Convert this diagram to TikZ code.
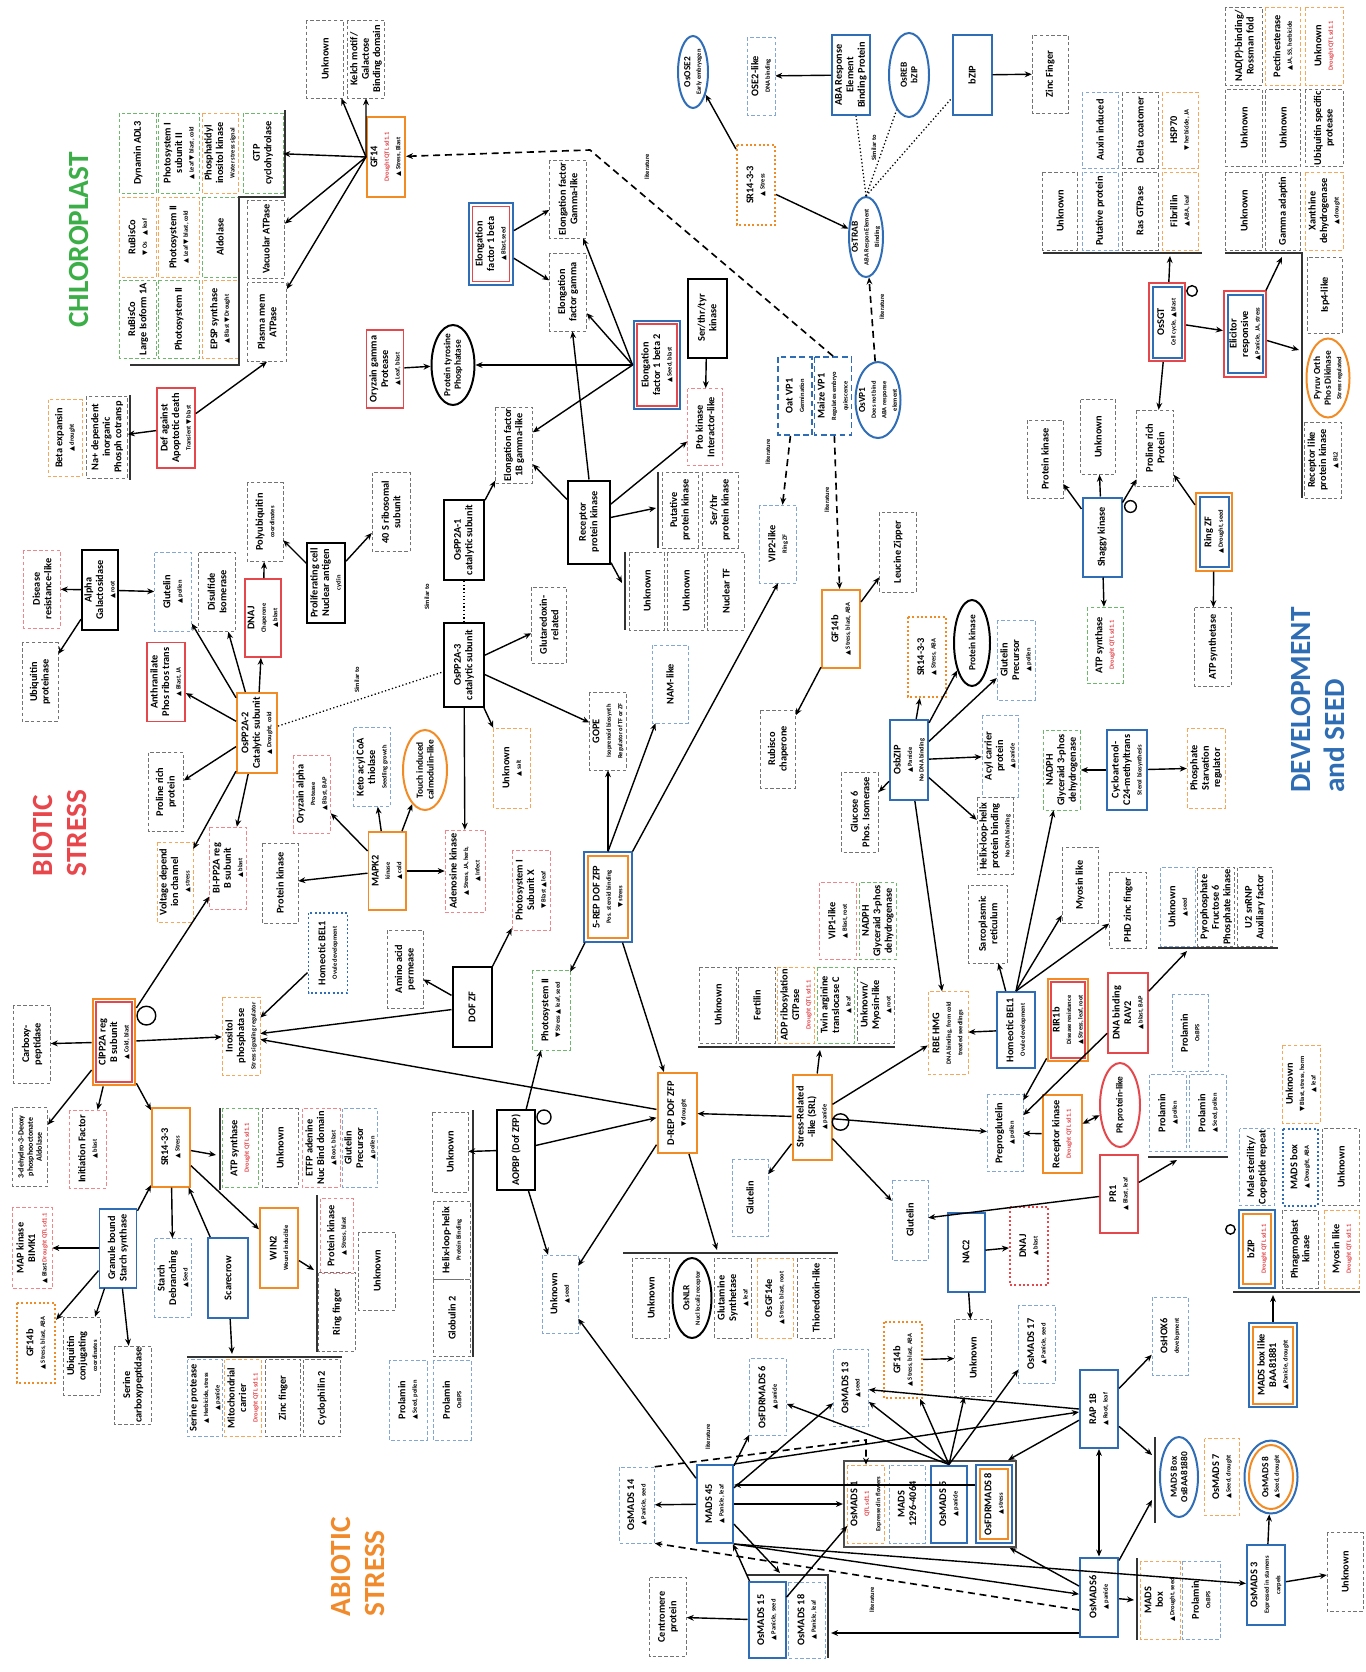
\documentclass[tikz,border=0pt]{standalone}
\usepackage{fontspec}
\setmainfont{Carlito}
\newfontfamily\symf{DejaVu Sans}
\usepackage{tikz}
\usetikzlibrary{shapes.geometric, arrows.meta, positioning, fit, calc}

\definecolor{myblue}{HTML}{2F6DB6}
\definecolor{myorange}{HTML}{F28B24}
\definecolor{myred}{HTML}{E4474C}
\definecolor{mygreen}{HTML}{6DB86A}
\definecolor{chlgreen}{HTML}{3CAE48}
\definecolor{devblue}{HTML}{2E6DB4}
\definecolor{biored}{HTML}{E8464B}
\definecolor{abiorange}{HTML}{F18A2A}

\newcommand\sm[1]{{\fontsize{5.5}{6.3}\selectfont #1}}
\newcommand\tup{{\symf ▲}}
\newcommand\tdn{{\symf ▼}}
\newcommand\qtl{{\color{myred}Drought QTL sd1.1}}

\begin{document}
\begin{tikzpicture}[
    x=0.03cm, y=-0.03cm,
    bx/.style={rotate=90, rectangle, align=center, inner sep=1pt,
        font=\fontsize{8.8}{9.8}\selectfont\bfseries,
        minimum width=2.34cm, minimum height=1.11cm},
    sz/.style 2 args={minimum height=#1*0.03cm, minimum width=#2*0.03cm},
    gbox/.style={bx, draw=black!55, densely dashed, thin},
    bbox/.style={bx, draw=myblue!60, densely dashed, thin},
    obox/.style={bx, draw=myorange!75, densely dashed, thin},
    rbox/.style={bx, draw=myred!65, densely dashed, thin},
    grbox/.style={bx, draw=mygreen, densely dashed, thin},
    kbox/.style={bx, draw=black, line width=1.7pt},
    Bbox/.style={bx, draw=myblue, line width=1.7pt},
    Obox/.style={bx, draw=myorange, line width=1.7pt},
    Rbox/.style={bx, draw=myred, line width=1.4pt},
    odot/.style={bx, draw=myorange, dotted, line width=1.7pt},
    bdot/.style={bx, draw=myblue, dotted, line width=1.7pt},
    rdot/.style={bx, draw=myred, dotted, line width=1.7pt},
    bdash/.style={bx, draw=myblue, dash pattern=on 5pt off 3pt, line width=1.5pt},
    ell/.style={bx, ellipse, inner sep=-4pt, line width=1.7pt,
        font=\fontsize{8}{9}\selectfont\bfseries},
    Bell/.style={ell, draw=myblue},
    Oell/.style={ell, draw=myorange},
    Rell/.style={ell, draw=myred},
    Kell/.style={ell, draw=black},
    frm/.style={draw=#1, line width=1.7pt, inner sep=2.2pt},
    grp/.style={draw=black!70, line width=1.4pt, inner sep=3pt},
    ar/.style={-{Stealth[length=6pt,width=5pt]}, line width=1.2pt},
    bi/.style={{Stealth[length=6pt,width=5pt]}-{Stealth[length=6pt,width=5pt]}, line width=1.2pt},
    dar/.style={ar, dash pattern=on 6pt off 4pt, line width=1.4pt},
    sim/.style={dotted, line width=1.1pt},
    brk/.style={line width=1.3pt, black!80},
    lp/.style={line width=1.2pt},
    lit/.style={rotate=90, font=\fontsize{5.5}{6.5}\selectfont\bfseries},
    ttl/.style={rotate=90, align=left, inner sep=0pt,
        font=\fontsize{25}{29}\selectfont\bfseries}
]
\useasboundingbox (0,0) rectangle (1366,1672);
\fill[white] (0,0) rectangle (1366,1672);

% chloroplast
\node[ttl, text=chlgreen] (chl) at (79,240) {CHLOROPLAST};
\node[gbox] (unk1) at (325,59) {Unknown};
\node[gbox] (kelch) at (366,59) {Kelch motif/\\Galactose\\Binding domain};
\node[grbox, sz={37}{80}] (dyn) at (138,153) {Dynamin ADL3};
\node[obox, sz={37}{80}] (rub1) at (138,237) {RuBisCo\\\sm{\tdn\ Os\quad\tup\ leaf}};
\node[grbox, sz={37}{78}] (rubl) at (138,319) {RuBisCo\\Large Isoform 1A};
\node[grbox, sz={41}{80}] (ps1) at (179,153) {Photosystem I\\subunit II\\\sm{\tup\ Leaf\ \tdn\ blast, cold}};
\node[obox, sz={41}{80}] (ps2a) at (179,237) {Photosystem II\\\sm{\tup\ Leaf\ \tdn\ blast, cold}};
\node[grbox, sz={41}{78}] (ps2b) at (179,319) {Photosystem II};
\node[obox, sz={36}{80}] (pik) at (220,153) {Phosphatidyl\\inositol kinase\\\sm{Water stress signal}};
\node[grbox, sz={36}{80}] (aldo) at (220,237) {Aldolase};
\node[obox, sz={36}{78}] (epsp) at (220,319) {EPSP synthase\\\sm{\tup\ Blast\ \tdn\ Drought}};
\node[grbox, sz={40}{80}] (gtp) at (263,153) {GTP\\cyclohydrolase};
\node[gbox] (vac) at (266,239) {Vacuolar ATPase};
\node[gbox, sz={39}{79}] (plas) at (267,322) {Plasma mem\\ATPase};
\node[Obox, sz={38}{80}] (gf14) at (386,157) {GF14\\\sm{\qtl}\\\sm{\tup\ Stress, Blast}};
\node[Rbox] (oryg) at (385,369) {Oryzain gamma\\Protease\\\sm{\tup\ Leaf, blast}};
\node[Kell, sz={43}{80}] (ptp) at (453,365) {Protein tyrosine\\Phosphatase};
\node[Rbox, sz={38}{80}] (defa) at (176,428) {Def against\\Apoptotic death\\\sm{Transient \tdn\ blast}};
\node[obox, sz={34}{77}] (beta) at (65,438) {Beta expansin\\\sm{\tup\ drought}};
\node[gbox, sz={41}{82}] (na) at (107,437) {Na+ dependent\\inorganic\\Phosph cotransp};

% ABA / elongation
\node[Bell, sz={30}{72}] (ose2) at (693,72) {OsOSE2\\\sm{Early embryogen}};
\node[bbox, sz={28}{78}] (ose2l) at (761,76) {OSE2-like\\\sm{DNA binding}};
\node[Bbox, sz={38}{80}] (abre) at (851,75) {ABA Response\\Element\\Binding Protein};
\node[Bell, sz={40}{84}] (osreb) at (909,75) {OsREB\\bZIP};
\node[Bbox, sz={39}{80}] (bzip) at (972,75) {bZIP};
\node[gbox, sz={36}{78}] (zinc) at (1050,74) {Zinc Finger};
\node[odot, sz={38}{80}] (sr1433a) at (756,185) {SR14-3-3\\\sm{\tup\ Stress}};
\node[Bell, sz={34}{80}] (ostrab) at (866,237) {OsTRAB\\\sm{ABA Respon Element}\\\sm{Binding}};
\node[Rbox, sz={37}{75}] (ef1b) at (491,244) {Elongation\\factor 1 beta\\\sm{\tup\ Blast,seed}};
\node[frm=myblue, fit=(ef1b)] (ef1bF) {};
\node[gbox] (efgl) at (568,199) {Elongation factor\\Gamma-like};
\node[gbox] (efg) at (568,292) {Elongation\\factor gamma};
\node[Rbox, sz={40}{82}] (ef1b2) at (657,365) {Elongation\\factor 1 beta 2\\\sm{\tup\ Seed, blast}};
\node[frm=myblue, fit=(ef1b2)] (ef1b2F) {};
\node[kbox, sz={39}{79}] (stt) at (707,318) {Ser/thr/tyr\\kinase};
\node[rbox, sz={35}{77}] (pto) at (705,427) {Pto kinase\\Interactor-like};
\node[bdash, sz={34}{78}] (oatvp) at (795,396) {Oat VP1\\\sm{Germination}};
\node[bdash, sz={37}{78}] (maizevp) at (833,396) {Maize VP1\\\sm{Regulates embryo}\\\sm{quiescence}};
\node[Bell, sz={45}{76}] (osvp1) at (878,400) {OsVP1\\\sm{Does not bind}\\\sm{ABA response}\\\sm{element}};

% OsSGT corner
\node[gbox, sz={35}{78}] (unks) at (1060,211) {Unknown};
\node[bbox, sz={36}{76}] (auxin) at (1100,130) {Auxin induced};
\node[bbox, sz={36}{78}] (putp) at (1100,211) {Putative protein};
\node[gbox, sz={36}{76}] (delta) at (1140,130) {Delta coatomer};
\node[gbox, sz={36}{78}] (ras) at (1140,211) {Ras GTPase};
\node[obox, sz={36}{76}] (hsp) at (1180,130) {HSP70\\\sm{\tdn\ herbicide, JA}};
\node[obox, sz={36}{78}] (fib) at (1180,211) {Fibrillin\\\sm{\tup\ ABA, leaf}};
\node[Bbox, sz={29}{71}] (osgt) at (1167,322) {OsSGT\\\sm{Cell cycle, \tup\ blast}};
\node[frm=myred, fit=(osgt)] (osgtF) {};
\node[gbox, sz={37}{78}] (nadp) at (1244,46) {NAD(P)-binding/\\Rossman fold};
\node[obox, sz={35}{78}] (pect) at (1283,46) {Pectinesterase\\\sm{\tup\ JA, SS, herbicide}};
\node[obox, sz={38}{78}] (unkq) at (1324,46) {Unknown\\\sm{\qtl}};
\node[gbox, sz={37}{77}] (unkr1) at (1244,128) {Unknown};
\node[gbox, sz={35}{77}] (unkr2) at (1283,128) {Unknown};
\node[gbox, sz={38}{77}] (ubsp) at (1324,128) {Ubiquitin specific\\protease};
\node[gbox, sz={37}{78}] (unkr3) at (1244,211) {Unknown};
\node[gbox, sz={35}{78}] (gad) at (1283,211) {Gamma adaptin};
\node[obox, sz={38}{78}] (xan) at (1324,211) {Xanthine\\dehydrogenase\\\sm{\tup\ drought}};
\node[gbox, sz={35}{76}] (isp4) at (1325,295) {Isp4-like};
\node[Oell, sz={43}{79}] (pyr) at (1328,378) {Pyruv Orth\\Phos Dikinase\\\sm{Stress regulated}};
\node[gbox, sz={37}{76}] (rlk) at (1323,460) {Receptor like\\protein kinase\\\sm{\tup\ BL2}};
\node[Bbox, sz={35}{78}] (elic) at (1245,334) {Elicitor\\responsive\\\sm{\tup\ Panicle, JA, stress}};
\node[frm=myred, fit=(elic)] (elicF) {};
\node[gbox, sz={36}{78}] (pk1) at (1045,459) {Protein kinase};
\node[gbox, sz={35}{75}] (unksh) at (1098,437) {Unknown};
\node[gbox, sz={37}{76}] (prp) at (1155,448) {Proline rich\\Protein};
\node[Bbox, sz={39}{79}] (shaggy) at (1102,537) {Shaggy kinase};
\node[grbox, sz={36}{76}] (atps1) at (1105,645) {ATP synthase\\\sm{\qtl}};
\node[Bbox, sz={29}{70}] (ringzf) at (1214,532) {Ring ZF\\\sm{\tup\ Drought, seed}};
\node[frm=myorange, fit=(ringzf)] (ringzfF) {};
\node[gbox, sz={37}{79}] (atpst) at (1213,647) {ATP synthetase};
\node[ttl, text=devblue] (dev) at (1318,700) {DEVELOPMENT\\and SEED};

% biotic side
\node[rbox, sz={37}{78}] (dis) at (42,589) {Disease\\resistance-like};
\node[kbox, sz={36}{80}] (alpha) at (100,590) {Alpha\\Galactosidase\\\sm{\tup\ root}};
\node[gbox, sz={36}{79}] (ubp) at (40,682) {Ubiquitin\\proteinase};
\node[bbox, sz={37}{79}] (glut1) at (173,592) {Glutelin\\\sm{\tup\ pollen}};
\node[gbox, sz={37}{79}] (disu) at (217,592) {Disulfide\\Isomerase};
\node[Rbox, sz={36}{78}] (dnaj1) at (263,618) {DNAJ\\\sm{Chaperone}\\\sm{\tup\ blast}};
\node[gbox, sz={36}{79}] (polyu) at (265,522) {Polyubiquitin\\\sm{coordinates}};
\node[kbox, sz={38}{80}] (pcna) at (326,583) {Proliferating cell\\Nuclear antigen\\\sm{cyclin}};
\node[gbox, sz={38}{79}] (s40) at (391,512) {40 S ribosomal\\subunit};
\node[Rbox, sz={38}{79}] (anth) at (166,682) {Anthranilate\\Phos ribos trans\\\sm{\tup\ Blast, JA}};
\node[Obox, sz={40}{80}] (pp2a2) at (257,733) {OsPP2A-2\\Catalytic subunit\\\sm{\tup\ Drought, cold}};
\node[gbox, sz={35}{79}] (prp2) at (166,792) {Proline rich\\protein};
\node[ttl, text=biored] (bio) at (60,833) {BIOTIC\\STRESS};
\node[rbox, sz={37}{78}] (orya) at (312,794) {Oryzain alpha\\\sm{Protease}\\\sm{\tup\ Blast, BAP}};
\node[bbox, sz={37}{79}] (keto) at (372,767) {Keto acyl CoA\\thiolase\\\sm{Seedling growth}};
\node[Oell, sz={44}{80}] (touch) at (425,770) {Touch induced\\calmodulin-like};
\node[kbox, sz={40}{80}] (pp2a1) at (464,540) {OsPP2A-1\\catalytic subunit};
\node[kbox, sz={40}{84}] (pp2a3) at (464,665) {OsPP2A-3\\catalytic subunit};
\node[gbox, sz={37}{76}] (ef1bgl) at (514,445) {Elongation factor\\1B gamma-like};
\node[kbox, sz={42}{83}] (rpk) at (589,522) {Receptor\\protein kinase};
\node[gbox, sz={36}{76}] (putpk) at (680,510) {Putative\\protein kinase};
\node[gbox, sz={36}{76}] (serpk) at (720,510) {Ser/thr\\protein kinase};
\node[gbox, sz={35}{78}] (unka) at (647,591) {Unknown};
\node[gbox, sz={37}{78}] (unkb) at (686,591) {Unknown};
\node[gbox, sz={37}{78}] (nuctf) at (726,591) {Nuclear TF};
\node[gbox, sz={35}{76}] (glrx) at (549,625) {Glutaredoxin-\\related};
\node[gbox, sz={37}{78}] (gope) at (608,731) {GOPE\\\sm{Isoprenoid biosynth}\\\sm{Regulator of TF or ZF}};
\node[obox, sz={37}{80}] (unksalt) at (512,768) {Unknown\\\sm{\tup\ salt}};
\node[bbox, sz={36}{78}] (nam) at (670,684) {NAM-like};
\node[bbox, sz={37}{78}] (vip2) at (778,544) {VIP2-like\\\sm{Ring ZF}};
\node[Obox, sz={38}{78}] (gf14b1) at (841,629) {GF14b\\\sm{\tup\ Stress, blast, ABA}};
\node[gbox, sz={37}{80}] (leuz) at (898,552) {Leucine Zipper};
\node[gbox, sz={35}{78}] (rubch) at (778,749) {Rubisco\\chaperone};
\node[gbox, sz={37}{80}] (g6p) at (860,812) {Glucose 6\\Phos. Isomerase};
\node[odot, sz={38}{80}] (sr1433b) at (927,657) {SR14-3-3\\\sm{\tup\ Stress, ABA}};
\node[Kell, sz={36}{86}] (pkell) at (972,643) {Protein kinase};
\node[bbox, sz={38}{80}] (glutp1) at (1016,660) {Glutelin\\Precursor\\\sm{\tup\ pollen}};
\node[Bbox, sz={38}{80}] (osbzip) at (909,760) {OsbZIP\\\sm{\tup\ Panicle}\\\sm{No DNA binding}};
\node[bbox, sz={36}{82}] (acyl) at (1000,756) {Acyl carrier\\protein\\\sm{\tup\ panicle}};
\node[gbox, sz={36}{77}] (hlh1) at (995,836) {Helix-loop-helix\\protein binding\\\sm{No DNA binding}};
\node[grbox, sz={37}{80}] (nadph1) at (1062,770) {NADPH\\Glyceraid 3-phos\\dehydrogenase};
\node[Bbox, sz={40}{80}] (cyclo) at (1127,770) {Cycloartenol-\\C24-methyltrans\\\sm{Sterol biosynthesis}};
\node[obox, sz={38}{80}] (phstarv) at (1206,768) {Phosphate\\Starvation\\regulator};

% middle band
\node[obox, sz={36}{80}] (vdic) at (175,882) {Voltage depend\\ion channel\\\sm{\tup\ stress}};
\node[rbox, sz={37}{82}] (bipp) at (228,868) {BI-PP2A reg\\B subunit\\\sm{\tup\ blast}};
\node[gbox, sz={36}{80}] (pk2) at (280,883) {Protein kinase};
\node[Obox, sz={37}{78}] (mapk) at (387,871) {MAPK2\\\sm{kinase}\\\sm{\tup\ cold}};
\node[rbox, sz={40}{82}] (adk) at (465,871) {Adenosine kinase\\\sm{\tup\ Stress, JA, herb,}\\\sm{\tup\ Infect}};
\node[bdot, sz={39}{80}] (bel1a) at (328,953) {Homeotic BEL1\\\sm{Ovule development}};
\node[gbox, sz={36}{78}] (aap) at (405,969) {Amino acid\\permease};
\node[kbox, sz={39}{80}] (dofzf) at (472,1007) {DOF ZF};
\node[rbox, sz={38}{80}] (ps1x) at (531,890) {Photosystem I\\Subunit X\\\sm{\tdn\ Blast\ \tup\ leaf}};
\node[Obox, sz={40}{82}] (rep5) at (608,897) {5-REP DOF ZFP\\\sm{Pos. steroid binding}\\\sm{\tdn\ stress}};
\node[frm=myblue, fit=(rep5)] (rep5F) {};
\node[grbox, sz={38}{80}] (ps2c) at (551,1010) {Photosystem II\\\sm{\tdn\ Stress\ \tup\ leaf, seed}};
\node[obox, sz={38}{78}] (inos) at (241,1036) {Inositol\\phosphatase\\\sm{Stress signaling regulator}};
\node[Rbox, sz={36}{80}] (clpp) at (114,1042) {ClPP2A reg\\B subunit\\\sm{\tup\ Cold, blast}};
\node[frm=myorange, fit=(clpp)] (clppF) {};
\node[gbox, sz={37}{78}] (carb) at (32,1044) {Carboxy-\\peptidase};
\node[gbox, sz={35}{79}, font=\fontsize{6.8}{7.8}\selectfont\bfseries] (dehy) at (30,1147) {3-dehydro-3-Deoxy\\phosphooctonate\\Aldolase};
\node[rbox, sz={37}{78}] (initf) at (88,1149) {Initiation Factor\\\sm{\tup\ blast}};
\node[Obox, sz={38}{79}] (sr1433c) at (171,1147) {SR14-3-3\\\sm{\tup\ Stress}};
\node[grbox, sz={36}{79}] (atps2) at (240,1148) {ATP synthase\\\sm{\qtl}};
\node[gbox, sz={36}{79}] (unkc) at (280,1148) {Unknown};
\node[rbox, sz={38}{79}] (etfp) at (321,1148) {ETFP adenine\\Nuc Bind domain\\\sm{\tup\ Root, blast}};
\node[bbox, sz={35}{79}] (glutp2) at (360,1148) {Glutelin\\Precursor\\\sm{\tup\ pollen}};
\node[Bbox, sz={37}{79}] (gbss) at (118,1248) {Granule bound\\Starch synthase};
\node[rbox, sz={40}{81}] (mapkb) at (32,1248) {MAP kinase\\BIMK1\\\sm{\tup\ Blast\ \qtl}};
\node[bbox, sz={37}{79}] (stdb) at (173,1278) {Starch\\Debranching\\\sm{\tup\ Seed}};
\node[Bbox, sz={40}{80}] (scare) at (228,1278) {Scarecrow};
\node[Obox, sz={38}{80}] (win2) at (279,1248) {WIN2\\\sm{Wound inducible}};
\node[rbox, sz={33}{75}] (pk3) at (337,1236) {Protein kinase\\\sm{\tup\ Stress, blast}};
\node[gbox, sz={37}{79}] (ringf) at (337,1312) {Ring finger};
\node[gbox, sz={37}{78}] (unkd) at (377,1271) {Unknown};
\node[odot, sz={38}{80}] (gf14b2) at (36,1343) {GF14b\\\sm{\tup\ Stress, blast, ABA}};
\node[gbox, sz={37}{78}] (ubc) at (82,1356) {Ubiquitin\\conjugating\\\sm{coordinates}};
\node[gbox, sz={37}{76}] (scp) at (133,1385) {Serine\\carboxypeptidase};
\node[bbox, sz={35}{77}] (serp) at (205,1398) {Serine protease\\\sm{\tup\ Herbicide, stress}\\\sm{\tup\ panicle}};
\node[obox, sz={37}{77}] (mito) at (243,1398) {Mitochondrial\\carrier\\\sm{\qtl}};
\node[gbox, sz={35}{77}] (zf2) at (283,1398) {Zinc finger};
\node[gbox, sz={37}{77}] (cyp) at (322,1398) {Cyclophilin 2};
\node[gbox, sz={36}{80}] (unke) at (450,1152) {Unknown};
\node[gbox, sz={37}{78}] (hlh2) at (452,1240) {Helix-loop-helix\\\sm{Protein Binding}};
\node[gbox, sz={37}{77}] (glob) at (452,1318) {Globulin 2};
\node[bbox, sz={38}{80}] (prol1) at (408,1400) {Prolamin\\\sm{\tup\ Seed, pollen}};
\node[bbox, sz={38}{80}] (prol2) at (452,1400) {Prolamin\\\sm{OsBPS}};
\node[ttl, text=abiorange] (abio) at (358,1567) {ABIOTIC\\STRESS};

% centre
\node[kbox, sz={38}{80}] (aopbp) at (516,1150) {AOPBP (Dof ZFP)};
\node[Obox, sz={39}{80}] (drep) at (677,1113) {D-REP DOF ZFP\\\sm{\tdn\ drought}};
\node[Obox, sz={39}{85}] (srl) at (812,1117) {Stress-Related\\-like (SRL)\\\sm{\tup\ panicle}};
\node[bbox, sz={36}{77}] (glut2) at (750,1198) {Glutelin};
\node[rbox, sz={37}{77}] (vip1) at (838,921) {VIP1-like\\\sm{\tup\ Blast, root}};
\node[grbox, sz={37}{77}] (nadph2) at (878,921) {NADPH\\Glyceraid 3-phos\\dehydrogenase};
\node[gbox, sz={37}{76}] (unkf) at (718,1005) {Unknown};
\node[gbox, sz={37}{76}] (fert) at (757,1005) {Fertilin};
\node[obox, sz={37}{76}] (adpr) at (796,1005) {ADP ribosylation\\GTPase\\\sm{\qtl}};
\node[grbox, sz={37}{76}] (tat) at (836,1005) {Twin arginine\\translocase C\\\sm{\tup\ leaf}};
\node[gbox, sz={37}{76}] (unkmy) at (876,1005) {Unknown/\\Myosin-like\\\sm{\tup\ root}};
\node[bbox, sz={36}{78}] (unkseed) at (560,1294) {Unknown\\\sm{\tup\ seed}};
\node[gbox, sz={37}{80}] (unkg) at (651,1298) {Unknown};
\node[Kell, sz={39}{80}] (osnlr) at (692,1298) {OsNLR\\\sm{Nucl localiz receptor}};
\node[gbox, sz={37}{80}] (glns) at (733,1298) {Glutamine\\Synthetase\\\sm{\tup\ leaf}};
\node[obox, sz={36}{80}] (gf14e) at (775,1298) {OsGF14e\\\sm{\tup\ Stress, blast, root}};
\node[gbox, sz={37}{80}] (thio) at (816,1298) {Thioredoxin-like};

% seed side
\node[gbox, sz={39}{78}] (sarco) at (988,924) {Sarcoplasmic\\reticulum};
\node[gbox, sz={36}{76}] (myo1) at (1080,885) {Myosin like};
\node[gbox, sz={37}{76}] (phd) at (1128,910) {PHD zinc finger};
\node[bbox, sz={35}{79}] (unkh) at (1178,907) {Unknown\\\sm{\tup\ seed}};
\node[gbox, sz={37}{79}] (pyro) at (1216,907) {Pyrophosphate\\Fructose 6\\Phosphate kinase};
\node[gbox, sz={35}{79}] (u2) at (1255,907) {U2 snRNP\\Auxiliary factor};
\node[obox, sz={40}{83}] (rbe) at (948,1033) {RBE HMG\\\sm{DNA binding, from cold}\\\sm{treated seedlings}};
\node[Bbox, sz={38}{76}] (bel1b) at (1016,1030) {Homeotic BEL1\\\sm{Ovule development}};
\node[Rbox, sz={34}{76}] (rir) at (1068,1020) {RIR1b\\\sm{Disease resistance}\\\sm{\tup\ Stress, leaf, root}};
\node[frm=myorange, fit=(rir)] (rirF) {};
\node[Rbox, sz={40}{80}] (rav2) at (1128,1013) {DNA binding\\RAV2\\\sm{\tup\ blast, BAP}};
\node[bbox, sz={36}{77}] (prolos) at (1190,1033) {Prolamin\\\sm{OsBPS}};
\node[bbox, sz={36}{77}] (preg) at (1005,1133) {Preproglutelin\\\sm{\tup\ pollen}};
\node[Obox, sz={39}{78}] (reck) at (1062,1134) {Receptor kinase\\\sm{\qtl}};
\node[Rell, sz={40}{84}] (prlike) at (1120,1105) {PR protein-like};
\node[bbox, sz={37}{77}] (prol3) at (1168,1113) {Prolamin\\\sm{\tup\ pollen}};
\node[bbox, sz={37}{77}] (prol4) at (1208,1113) {Prolamin\\\sm{\tup\ Seed, pollen}};
\node[Rbox, sz={38}{78}] (pr1) at (1119,1194) {PR1\\\sm{\tup\ Blast, leaf}};
\node[bbox, sz={36}{80}] (glut3) at (910,1220) {Glutelin};
\node[Bbox, sz={37}{79}] (nac2) at (966,1252) {NAC2};
\node[rdot, sz={38}{78}] (dnaj2) at (1029,1246) {DNAJ\\\sm{\tup\ blast}};
\node[obox, sz={38}{78}] (unkbhl) at (1301,1084) {Unknown\\\sm{\tdn\ Blast, stress, horm}\\\sm{\tup\ leaf}};
\node[bbox, sz={35}{77}] (male) at (1257,1167) {Male sterility/\\Copeptide repeat};
\node[bdot, sz={35}{77}] (madsb1) at (1300,1167) {MADS box\\\sm{\tup\ Drought, ABA}};
\node[gbox, sz={37}{77}] (unki) at (1341,1167) {Unknown};
\node[Obox, sz={28}{70}] (bzip2) at (1257,1249) {bZIP\\\sm{\qtl}};
\node[frm=myblue, fit=(bzip2)] (bzip2F) {};
\node[gbox, sz={36}{78}] (phrag) at (1300,1249) {Phragmoplast\\kinase};
\node[obox, sz={35}{78}] (myo2) at (1342,1249) {Myosin like\\\sm{\qtl}};
\node[Obox, sz={40}{77}] (madsbl) at (1273,1365) {MADS box like\\BAA81881\\\sm{\tup\ Panicle, drought}};
\node[frm=myblue, fit=(madsbl)] (madsblF) {};

% MADS corner
\node[odot, sz={38}{76}] (gf14b3) at (903,1360) {GF14b\\\sm{\tup\ Stress, blast, ABA}};
\node[gbox, sz={37}{77}] (unkj) at (973,1358) {Unknown};
\node[bbox, sz={37}{78}] (mads17) at (1037,1344) {OsMADS 17\\\sm{\tup\ Panicle, seed}};
\node[bbox, sz={36}{78}] (hox6) at (1170,1336) {OsHOX6\\\sm{development}};
\node[Bbox, sz={38}{78}] (rap1b) at (1099,1409) {RAP 1B\\\sm{\tup\ Root, leaf}};
\node[Bell, sz={38}{80}] (mbox880) at (1179,1477) {MADS Box\\OsBAA81880};
\node[obox, sz={35}{77}] (mads7) at (1222,1477) {OsMADS 7\\\sm{\tup\ Seed, drought}};
\node[Oell, sz={44}{64}] (mads8) at (1271,1477) {OsMADS 8\\\sm{\tup\ Seed, drought}};
\node[Bell, sz={53}{73}] (mads8F) at (1271,1477) {};
\node[Bbox, sz={38}{79}] (mads6) at (1099,1597) {OsMADS6\\\sm{\tup\ panicle}};
\node[obox, sz={40}{78}] (mbx2) at (1160,1600) {MADS\\box\\\sm{\tup\ Drought, seed}};
\node[bbox, sz={38}{78}] (prol5) at (1201,1600) {Prolamin\\\sm{OsBPS}};
\node[Bbox, sz={38}{80}] (mads3) at (1266,1585) {OsMADS 3\\\sm{Expressed in stamens}\\\sm{carpels}};
\node[gbox, sz={36}{79}] (unkk) at (1345,1572) {Unknown};
\node[obox, sz={37}{78}] (mads1) at (866,1504) {OsMADS 1\\\sm{\color{myred}QTL sd1.1}\\\sm{Expressed in flowers}};
\node[bbox, sz={36}{78}] (mads1296) at (907,1504) {MADS\\1296-4064};
\node[Bbox, sz={36}{77}] (mads5) at (949,1504) {OsMADS 5\\\sm{\tup\ panicle}};
\node[Obox, sz={28}{70}] (fdr8) at (994,1504) {OsFDRMADS 8\\\sm{\tup\ stress}};
\node[frm=myblue, fit=(fdr8)] (fdr8F) {};
\node[grp, fit=(mads1)(fdr8F)] (madsgrp) {};
\node[bbox, sz={37}{77}] (fdr6) at (768,1397) {OsFDRMADS 6\\\sm{\tup\ panicle}};
\node[bbox, sz={35}{77}] (mads13) at (851,1388) {OsMADS 13\\\sm{\tup\ seed}};
\node[Bbox, sz={36}{78}] (mads45) at (715,1504) {MADS 45\\\sm{\tup\ Panicle, leaf}};
\node[bbox, sz={35}{76}] (mads14) at (637,1505) {OsMADS 14\\\sm{\tup\ Panicle, seed}};
\node[Bbox, sz={37}{76}] (mads15) at (767,1620) {OsMADS 15\\\sm{\tup\ Panicle, seed}};
\node[bbox, sz={37}{76}] (mads18) at (807,1620) {OsMADS 18\\\sm{\tup\ Panicle, leaf}};
\node[gbox, sz={37}{79}] (centro) at (668,1617) {Centromere\\protein};

% small labels
\node[lit] (sima) at (874,148) {Similar to};
\node[lit] (simb) at (427,597) {Similar to};
\node[lit] (simc) at (357,680) {Similar to};
\node[lit] (lita) at (647,167) {literature};
\node[lit] (litb) at (882,307) {literature};
\node[lit] (litc) at (768,452) {literature};
\node[lit] (litd) at (827,500) {literature};
\node[lit] (lite) at (708,1437) {literature};
\node[lit] (litf) at (872,1600) {literature};

% free ends on block edges
\coordinate (bend1) at (590,150);
\coordinate (putblk) at (656,508);
\coordinate (unkblk) at (622,583);
\coordinate (sgtblk) at (1170,256);
\coordinate (elicb1) at (1282,257);
\coordinate (elicb2) at (1299,350);
\coordinate (atpblk) at (216,1155);
\coordinate (pkblk) at (314,1270);
\coordinate (serblk) at (232,1354);
\coordinate (srlblk) at (820,1050);
\coordinate (lowblk) at (717,1250);
\coordinate (unkblk2) at (1187,951);
\coordinate (prolblk) at (1177,1160);
\coordinate (bzblk) at (1273,1295);
\coordinate (mbblk) at (1152,1455);
\coordinate (mbblk2) at (1152,1500);
\coordinate (mbxblk) at (1134,1600);
\coordinate (m1518top) at (780,1573);
\coordinate (m1518blk) at (831,1633);
\coordinate (dl1) at (866,1440);

% block brackets
\draw[brk] (130,365) -- (239,365) -- (239,197) -- (285,197) -- (285,110);
\draw[brk] (130,395) -- (130,480);
\draw[brk] (1043,253) -- (1202,253);
\draw[brk] (1225,253) -- (1302,253) -- (1302,498);
\draw[brk] (658,472) -- (658,548);
\draw[brk] (625,552) -- (625,630);
\draw[brk] (698,1047) -- (895,1047);
\draw[brk] (220,1108) -- (220,1190);
\draw[brk] (317,1195) -- (317,1352);
\draw[brk] (187,1357) -- (342,1357);
\draw[brk] (473,1110) -- (473,1357);
\draw[brk] (623,1253) -- (838,1253);
\draw[brk] (1158,948) -- (1278,948);
\draw[brk] (1148,1157) -- (1228,1157);
\draw[brk] (1233,1292) -- (1360,1292);
\draw[brk] (1155,1437) -- (1155,1523);
\draw[brk] (1137,1558) -- (1137,1640);
\draw[brk] (747,1575) -- (828,1575) -- (828,1658);

% connectors, top
\draw[ar] (gf14.north) -- (unk1);
\draw[ar] (gf14.north) -- (kelch);
\draw[ar] (gf14.north) -- (gtp);
\draw[ar] (gf14.north) -- (vac);
\draw[ar] (gf14.north) -- (plas);
\draw[ar] (defa) -- (plas.west);
\draw[ar] (defa) -- (na);
\draw[ar] (oryg) -- (ptp);
\draw[ar] (ef1b2F.west) -- (ptp);
\draw[ar] (ef1b2F.west) -- (efg);
\draw[ar] (ef1b2F.west) -- (efgl);
\draw[ar] (ef1b2F.west) -- (ef1bgl);
\draw[ar] (ef1bF) -- (efgl);
\draw[ar] (ef1bF) -- (efg);
\draw[ar] (rpk.east) -- (efg);
\draw[ar] (rpk) -- (ef1bgl);
\draw[ar] (rpk) -- (pto);
\draw[ar] (rpk) -- (putblk);
\draw[ar] (rpk) -- (unkblk);
\draw[ar] (stt) -- (pto);
\draw[ar] (abre) -- (ose2l);
\draw[ar] (sr1433a) -- (ose2);
\draw[ar] (sr1433a) -- (ostrab);
\draw[sim] (ostrab.east) -- (abre);
\draw[sim] (ostrab.east) -- (osreb);
\draw[sim] (ostrab.east) -- (bzip);
\draw[ar] (bzip) -- (zinc);
\draw[dar] (maizevp.east) -- (bend1) -- (gf14);
\draw[dar] (osvp1) -- (ostrab);
\draw[dar] (oatvp) -- (vip2);
\draw[dar] (maizevp) -- (gf14b1);
\draw[ar] (osgtF) -- (sgtblk);
\draw[ar] (osgtF) -- (elicF);
\draw[ar] (osgtF) -- (prp);
\draw[ar] (elicF) -- (elicb1);
\draw[ar] (elicF) -- (elicb2);
\draw[ar] (shaggy) -- (pk1);
\draw[ar] (shaggy) -- (unksh);
\draw[ar] (shaggy) -- (prp);
\draw[ar] (shaggy) -- (atps1);
\draw[ar] (ringzfF) -- (prp);
\draw[ar] (ringzfF) -- (atpst);
\draw[ar] (cyclo) -- (nadph1);
\draw[ar] (cyclo) -- (phstarv);

% connectors, biotic
\draw[ar] (alpha) -- (dis);
\draw[ar] (alpha) -- (ubp);
\draw[ar] (alpha) -- (glut1);
\draw[ar] (pp2a2) -- (dnaj1);
\draw[ar] (pp2a2) -- (disu);
\draw[ar] (pp2a2) -- (glut1);
\draw[ar] (pp2a2) -- (anth);
\draw[ar] (pp2a2) -- (prp2);
\draw[ar] (pp2a2) -- (vdic);
\draw[ar] (pp2a2) -- (bipp);
\draw[ar] (dnaj1) -- (polyu);
\draw[ar] (pcna) -- (polyu);
\draw[ar] (pcna) -- (s40);
\draw[sim] (pp2a2) -- (pp2a3);
\draw[sim] (pp2a1) -- (pp2a3);
\draw[ar] (pp2a1) -- (ef1bgl);
\draw[ar] (pp2a3) -- (glrx);
\draw[ar] (pp2a3) -- (gope);
\draw[ar] (pp2a3) -- (unksalt);
\draw[ar] (pp2a3) -- (adk);
\draw[ar] (mapk) -- (pk2);
\draw[ar] (mapk) -- (adk);
\draw[ar] (mapk) -- (orya);
\draw[ar] (mapk) -- (keto);
\draw[ar] (mapk) -- (touch);

% connectors, middle
\draw[ar] (bel1a) -- (inos);
\draw[ar] (dofzf) -- (aap);
\draw[ar] (dofzf) -- (ps1x);
\draw[ar] (dofzf) -- (inos);
\draw[ar] (clppF) -- (bipp);
\draw[ar] (clppF) -- (carb);
\draw[ar] (clppF) -- (dehy);
\draw[ar] (clppF) -- (initf);
\draw[ar] (clppF) -- (sr1433c);
\draw[ar] (clppF) -- (inos);
\draw[ar] (drep) -- (inos);
\draw[ar] (sr1433c) -- (atpblk);
\draw[ar] (sr1433c) -- (win2);
\draw[ar] (sr1433c) -- (stdb);
\draw[ar] (gbss) -- (sr1433c);
\draw[ar] (scare) -- (sr1433c);
\draw[ar] (gbss) -- (mapkb);
\draw[ar] (gbss) -- (gf14b2);
\draw[ar] (gbss) -- (ubc);
\draw[ar] (gbss) -- (scp);
\draw[ar] (win2) -- (pkblk);
\draw[ar] (scare) -- (serblk);
\draw[ar] (rep5F) -- (ps2c);
\draw[ar] (rep5F) -- (drep);
\draw[ar] (rep5F.north) -- (gope);
\draw[ar] (rep5F.north) -- (nam);
\draw[ar] (rep5F.north east) -- (vip2.west);
\draw[ar] (aopbp) -- (ps2c);
\draw[ar] (aopbp) -- (drep);
\draw[ar] (aopbp) -- (unke);
\draw[ar] (aopbp) -- (unkseed);
\draw[ar] (srl) -- (drep);
\draw[ar] (srl) -- (glut2);
\draw[ar] (srl) -- (srlblk);
\draw[ar] (srl) -- (rbe);
\draw[ar] (srl) -- (preg);
\draw[ar] (srl) -- (glut3);
\draw[ar] (drep) -- (unkseed);
\draw[ar] (drep) -- (lowblk);
\draw[ar] (gf14b1) -- (leuz);
\draw[ar] (gf14b1) -- (rubch);
\draw[ar] (osbzip) -- (sr1433b);
\draw[ar] (osbzip) -- (pkell);
\draw[ar] (osbzip) -- (glutp1);
\draw[ar] (osbzip) -- (acyl);
\draw[ar] (osbzip) -- (hlh1);
\draw[ar] (osbzip) -- (g6p);
\draw[ar] (osbzip) -- (rbe);

% connectors, seed side
\draw[ar] (bel1b) -- (rbe);
\draw[ar] (bel1b) -- (sarco);
\draw[ar] (bel1b.east) -- (myo1);
\draw[ar] (bel1b.east) -- (phd);
\draw[ar] (bel1b.east) -- (nadph1);
\draw[ar] (rav2) -- (unkblk2);
\draw[ar] (rirF) -- (preg);
\draw[ar] (rav2) -- (preg);
\draw[ar] (reck) -- (preg);
\draw[bi] (reck) -- (prlike);
\draw[ar] (pr1) -- (prolblk);
\draw[ar] (pr1) -- (glut3);
\draw[ar] (nac2) -- (dnaj2);
\draw[ar] (nac2) -- (unkj);
\draw[ar] (madsblF) -- (bzblk);
\draw[ar] (gf14b3) -- (unkj);

% connectors, MADS
\draw[ar] (rap1b) -- (hox6);
\draw[ar] (rap1b) -- (mbblk);
\draw[bi] (rap1b) -- (mads6);
\draw[ar] (rap1b) -- (madsgrp);
\draw[ar] (rap1b.north) -- (mads13);
\draw[ar] (mads6) -- (mbxblk);
\draw[ar] (mads6) -- (mbblk2);
\draw[ar] (mads6) -- (madsgrp);
\draw[ar] (mads3) -- (mads8F);
\draw[ar] (mads3) -- (unkk);
\draw[ar] (mads5.east) -- (gf14b3);
\draw[ar] (mads5.east) -- (unkj);
\draw[ar] (mads5.east) -- (mads17);
\draw[ar] (mads5.east) -- (fdr6);
\draw[ar] (mads5.east) -- (mads13);
\draw[ar] (mads45) -- (mads14);
\draw[ar] (mads45) -- (unkseed);
\draw[ar] (mads45) -- (fdr6);
\draw[ar] (mads45) -- (mads13);
\draw[ar] (mads45) -- (madsgrp);
\draw[ar] (mads45.south east) -- (rap1b);
\draw[ar] (mads45.south west) -- (mads6);
\draw[ar] (mads45.south west) -- (mads3);
\draw[ar] ($(fdr8F.west)+(0,-19)$) -- ($(mads45.south)+(0,-19)$);
\draw[ar] (mads15) -- (centro);
\draw[ar] (mads15) -- (mads45);
\draw[ar] (mads15) -- (mads1);
\draw[ar] (mads45) -- (m1518top);
\draw[ar] ($(mads6.north)+(0,36)$) -- (m1518blk);
\draw[dar] ($(mads6.north)+(0,13)$) -- (mads14.south west);
\draw[dar] (mads14.south east) -- (dl1) -- (mads1.east);

% self loops
\draw[lp] ([shift={(6,9)}]osgtF.north east) circle[radius=4.5pt];
\draw[lp] ([shift={(8,10)}]shaggy.south east) circle[radius=5pt];
\draw[lp] ([shift={(10,18)}]clppF.north east) circle[radius=8pt];
\draw[lp] ([shift={(8,8)}]aopbp.south east) circle[radius=6pt];
\draw[lp] ([shift={(8,5)}]srl.south) circle[radius=7pt];
\draw[lp] ([shift={(-8,20)}]bzip2F.north west) circle[radius=4pt];

\end{tikzpicture}
\end{document}
